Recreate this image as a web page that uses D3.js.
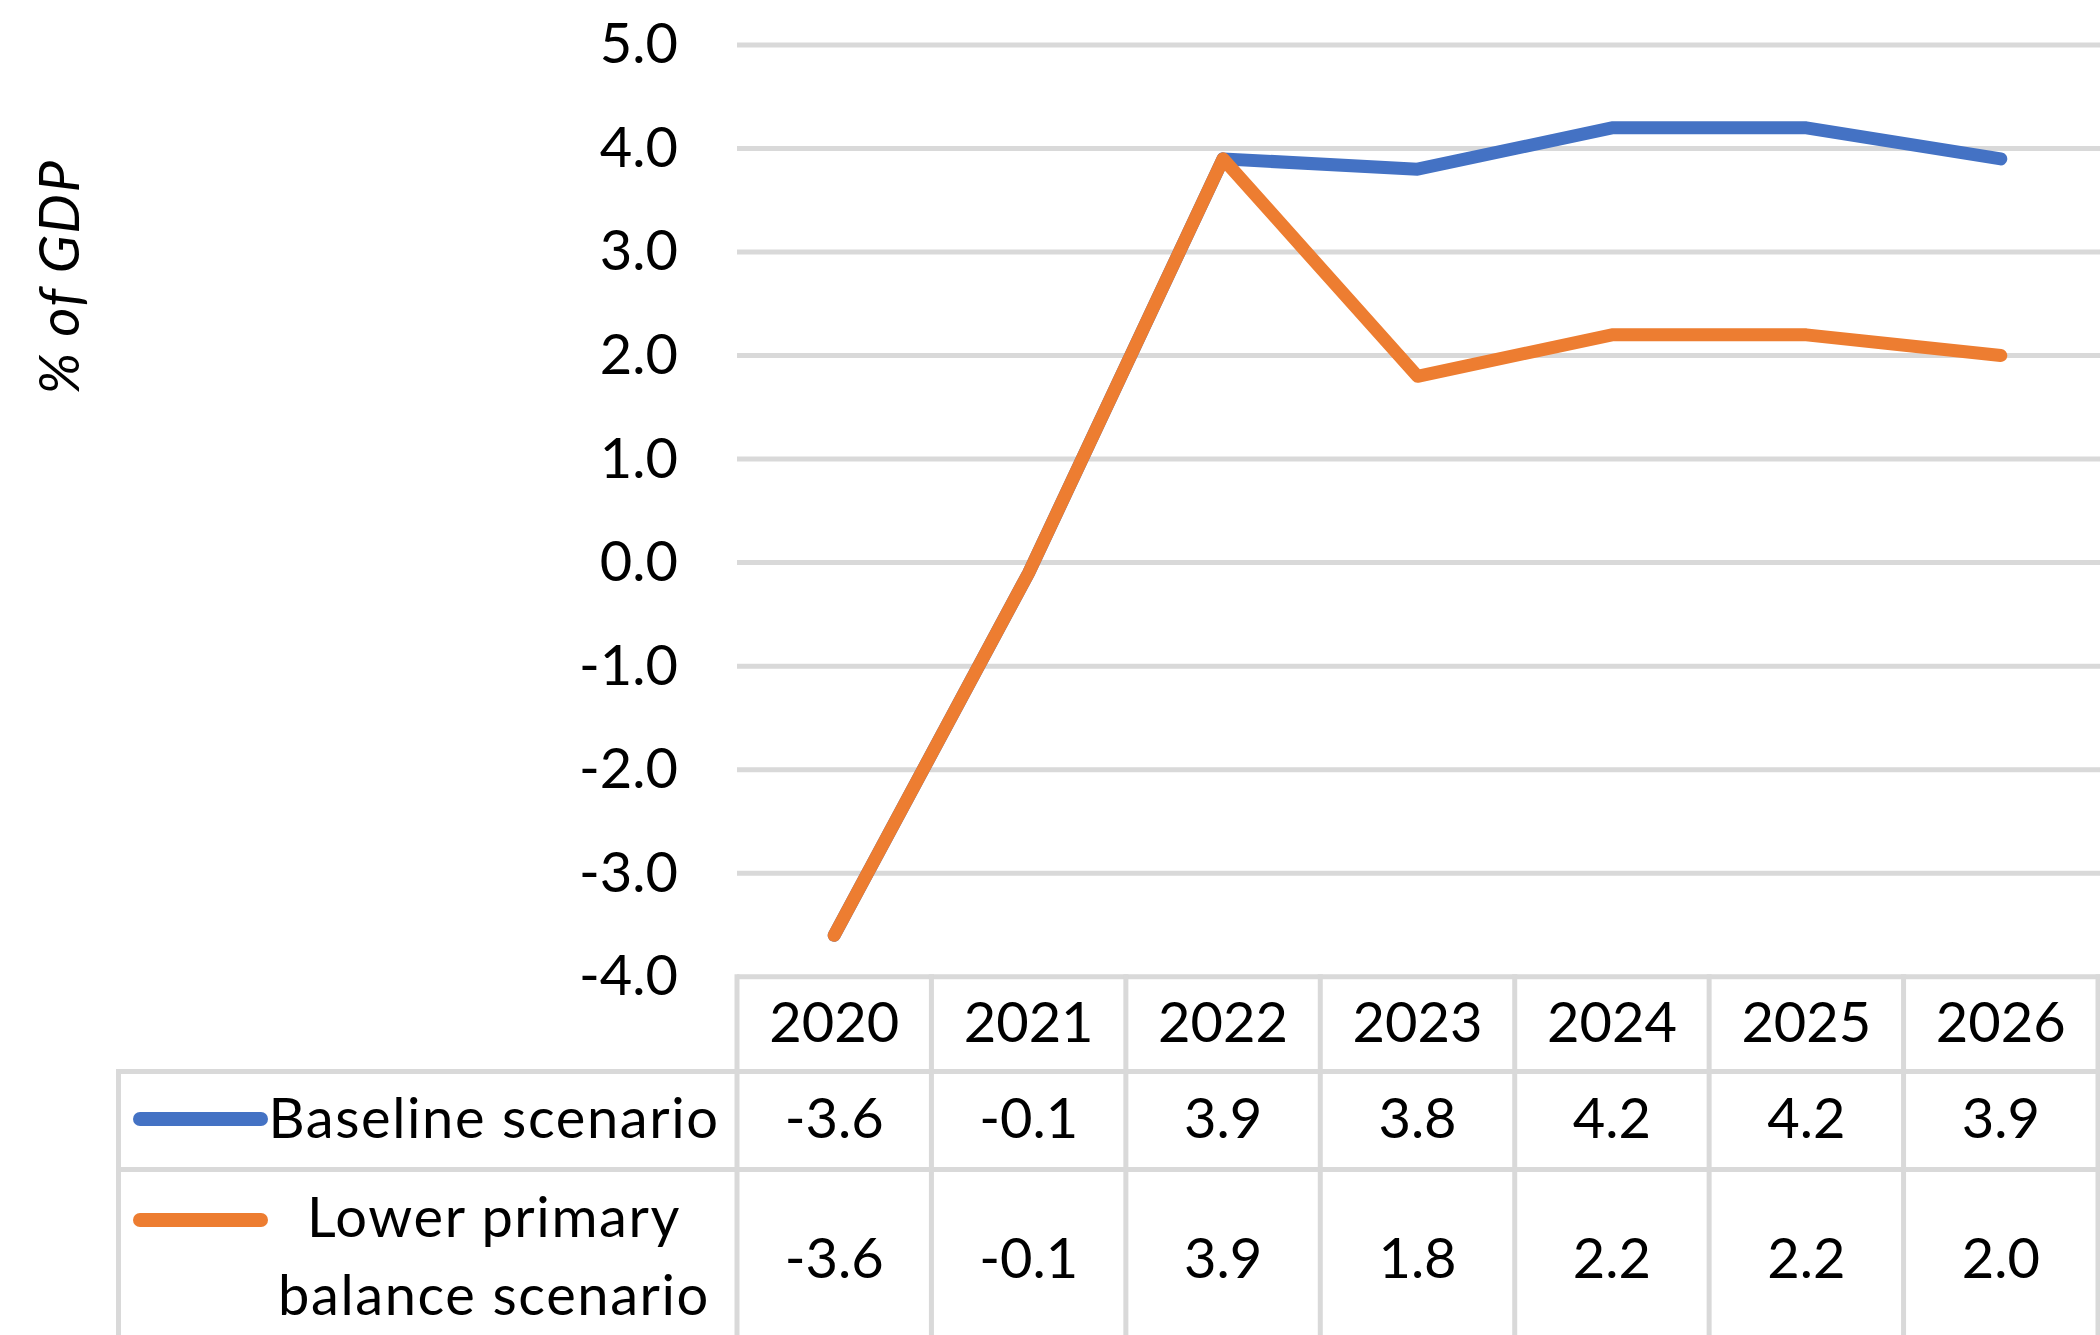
<!DOCTYPE html>
<html>
<head>
<meta charset="utf-8">
<script src="https://cdn.jsdelivr.net/npm/d3@7"></script>
<style>
  html, body { margin: 0; padding: 0; background: #fff; }
  svg { display: block; }
  text { font-family: Lato, "Open Sans", sans-serif; fill: #000; }
</style>
</head>
<body>
<svg id="chart" width="2100" height="1335"></svg>
<script>
// Primary balance projections, % of GDP
const years = ["2020", "2021", "2022", "2023", "2024", "2025", "2026"];
const baselineValues = [-3.6, -0.1, 3.9, 3.8, 4.2, 4.2, 3.9];
const lowerPrimaryValues = [-3.6, -0.1, 3.9, 1.8, 2.2, 2.2, 2.0];
const yTickValues = [-4, -3, -2, -1, 0, 1, 2, 3, 4, 5];
const seriesNames = ["Baseline scenario", "Lower primary balance scenario"];
const seriesLabelLines = [["Baseline scenario"], ["Lower primary", "balance scenario"]];
const seriesColors = ["#4472C4", "#ED7D31"];
const axisTitle = "% of GDP";

const series = [
  { name: seriesNames[0], values: baselineValues, color: seriesColors[0], lines: seriesLabelLines[0] },
  { name: seriesNames[1], values: lowerPrimaryValues, color: seriesColors[1], lines: seriesLabelLines[1] }
];

const W = 2100, H = 1335;
const plotLeft = 737, plotRight = 2098, plotTop = 45, plotBottom = 976.7;
const tableLeft = 118.5;
const rowBottoms = [1071.5, 1169.5];
const gridColor = "#D9D9D9", gridWidth = 5;
const fontSize = 56;

const svg = d3.select("#chart");
svg.append("rect").attr("width", W).attr("height", H).attr("fill", "#fff");

const fmt = d3.formatLocale({ decimal: ".", thousands: ",", grouping: [3], currency: ["", ""], minus: "-" }).format(".1f");

const x = d3.scaleBand().domain(years).range([plotLeft, plotRight]).padding(0);
const xc = d => x(d) + x.bandwidth() / 2;
const y = d3.scaleLinear().domain([-4, 5]).range([plotBottom, plotTop]);

// Horizontal gridlines
svg.append("g").selectAll("line").data(yTickValues).join("line")
  .attr("x1", plotLeft).attr("x2", W)
  .attr("y1", d => y(d)).attr("y2", d => y(d))
  .attr("stroke", gridColor).attr("stroke-width", gridWidth);

// Value axis labels
const yAxis = d3.axisLeft(y).tickValues(yTickValues).tickSize(0).tickPadding(plotLeft - 678).tickFormat(fmt);
const yAxisG = svg.append("g").attr("transform", `translate(${plotLeft},0)`).call(yAxis);
yAxisG.select(".domain").remove();
yAxisG.selectAll("text")
  .attr("font-family", "Lato, 'Open Sans', sans-serif")
  .attr("font-size", fontSize).attr("fill", "#000");

// Axis title
svg.append("text")
  .attr("transform", "translate(79,277) rotate(-90)")
  .attr("text-anchor", "middle")
  .attr("font-style", "italic")
  .attr("font-size", fontSize)
  .attr("letter-spacing", 1.5)
  .text(axisTitle);

// Data table grid
const tableG = svg.append("g").attr("stroke", gridColor).attr("stroke-width", gridWidth);
const colEdges = years.map(d => x(d)).concat([plotRight]);
tableG.selectAll("line.col").data(colEdges).join("line").attr("class", "col")
  .attr("x1", d => d).attr("x2", d => d)
  .attr("y1", plotBottom - gridWidth / 2).attr("y2", H);
tableG.selectAll("line.row").data(rowBottoms).join("line").attr("class", "row")
  .attr("x1", tableLeft - gridWidth / 2).attr("x2", W)
  .attr("y1", d => d).attr("y2", d => d);
tableG.append("line")
  .attr("x1", tableLeft).attr("x2", tableLeft)
  .attr("y1", rowBottoms[0] - gridWidth / 2).attr("y2", H);

// Year headers
svg.append("g").selectAll("text").data(years).join("text")
  .attr("x", d => xc(d)).attr("y", 1042)
  .attr("text-anchor", "middle").attr("font-size", fontSize)
  .text(d => d);

// Table values
const rowBaselines = [1138, 1278];
series.forEach((s, i) => {
  svg.append("g").selectAll("text").data(s.values).join("text")
    .attr("x", (d, j) => xc(years[j])).attr("y", rowBaselines[i])
    .attr("text-anchor", "middle").attr("font-size", fontSize)
    .text(d => fmt(d));
});

// Legend keys and series names
const keyY = [1119, 1220];
const labelBaselines = [[1138], [1237, 1315]];
series.forEach((s, i) => {
  svg.append("line")
    .attr("x1", 140).attr("x2", 261)
    .attr("y1", keyY[i]).attr("y2", keyY[i])
    .attr("stroke", s.color).attr("stroke-width", 14).attr("stroke-linecap", "round");
  svg.append("g").selectAll("text").data(s.lines).join("text")
    .attr("x", 494).attr("y", (d, k) => labelBaselines[i][k])
    .attr("text-anchor", "middle").attr("font-size", fontSize)
    .attr("letter-spacing", 1.6)
    .text(d => d);
});

// Series lines (baseline drawn first, lower scenario on top)
const line = d3.line().x((d, j) => xc(years[j])).y(d => y(d));
svg.append("g").selectAll("path").data(series).join("path")
  .attr("d", s => line(s.values))
  .attr("fill", "none")
  .attr("stroke", s => s.color)
  .attr("stroke-width", 13)
  .attr("stroke-linecap", "round")
  .attr("stroke-linejoin", "round");
</script>
</body>
</html>
